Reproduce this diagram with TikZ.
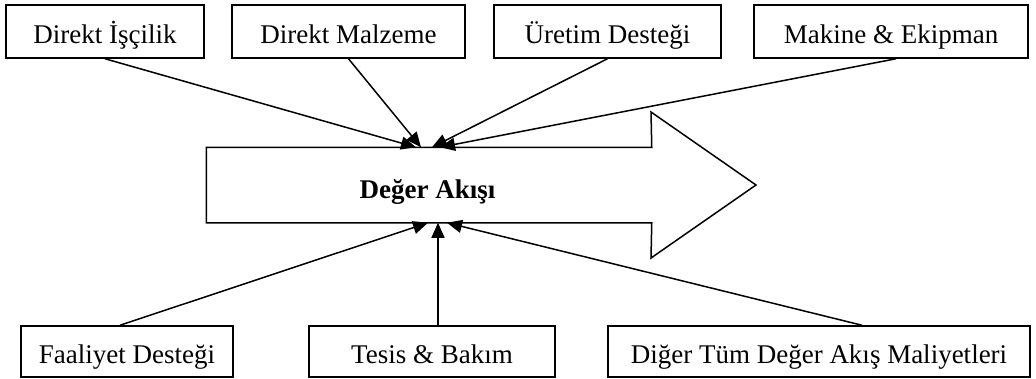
\documentclass[tikz,border=0pt]{standalone}
\usepackage{fontspec}
\setmainfont{Liberation Serif}
\usetikzlibrary{arrows.meta}

\begin{document}
\begin{tikzpicture}[x=1pt,y=-1pt,->,>={Triangle[length=15pt,width=13pt]},line width=1.5pt,
    cost node/.style={draw,rectangle,inner sep=0pt,minimum height=53pt,text height=23pt,text depth=0pt,font=\fontsize{27}{32}\selectfont}]
                \useasboundingbox (0,0) rectangle (1036,378);

                % ust kutular
                \node[cost node,minimum width=198pt] (dl) at (105,31.5) {Direkt İşçilik};
                \node[cost node,minimum width=233pt] (dm) at (348.5,31.5) {Direkt Malzeme};
                \node[cost node,minimum width=227pt] (ud) at (607.5,31.5) {Üretim Desteği};
                \node[cost node,minimum width=274pt] (me) at (891,31.5) {Makine \& Ekipman};

                % alt kutular
                \node[cost node,minimum width=212pt,minimum height=51pt] (fd) at (127,351.5) {Faaliyet Desteği};
                \node[cost node,minimum width=246pt,minimum height=51pt] (tb) at (432,351.5) {Tesis \& Bakım};
                \node[cost node,minimum width=422pt,minimum height=51pt] (dt) at (819,351.5) {Diğer Tüm Değer Akış Maliyetleri};

                % deger akisi
                \node[rectangle,inner sep=0pt,minimum width=444pt,minimum height=74pt] (flow) at (429,185) {};
                \node[anchor=base,inner sep=0pt,font=\fontsize{27}{32}\selectfont\bfseries] (flowlabel) at (427.5,198) {Değer Akışı};
                \draw[-,line join=miter] (flow.north west) -- (flow.north east) -- (651,112) -- (756,185)
                    -- (651,258) -- (flow.south east) -- (flow.south west) -- cycle;

                \coordinate (t1) at ([xshift=-13pt]flow.north);
                \coordinate (t2) at ([xshift=-8pt]flow.north);
                \coordinate (t3) at ([xshift=3pt]flow.north);
                \coordinate (t4) at ([xshift=11pt]flow.north);
                \coordinate (b1) at ([xshift=-1pt]flow.south);
                \coordinate (b2) at ([xshift=9pt]flow.south);
                \coordinate (b3) at ([xshift=18pt]flow.south);

                \path
                    (dl.south) edge (t1)
                    (dm.south) edge (t2)
                    (ud.south) edge (t3)
                    ([xshift=5pt]me.south) edge (t4)
                    ([xshift=-7pt]fd.north) edge (b1)
                    ([xshift=6pt]tb.north) edge (b2)
                    ([xshift=43pt]dt.north) edge (b3)
                    ;
\end{tikzpicture}
\end{document}
